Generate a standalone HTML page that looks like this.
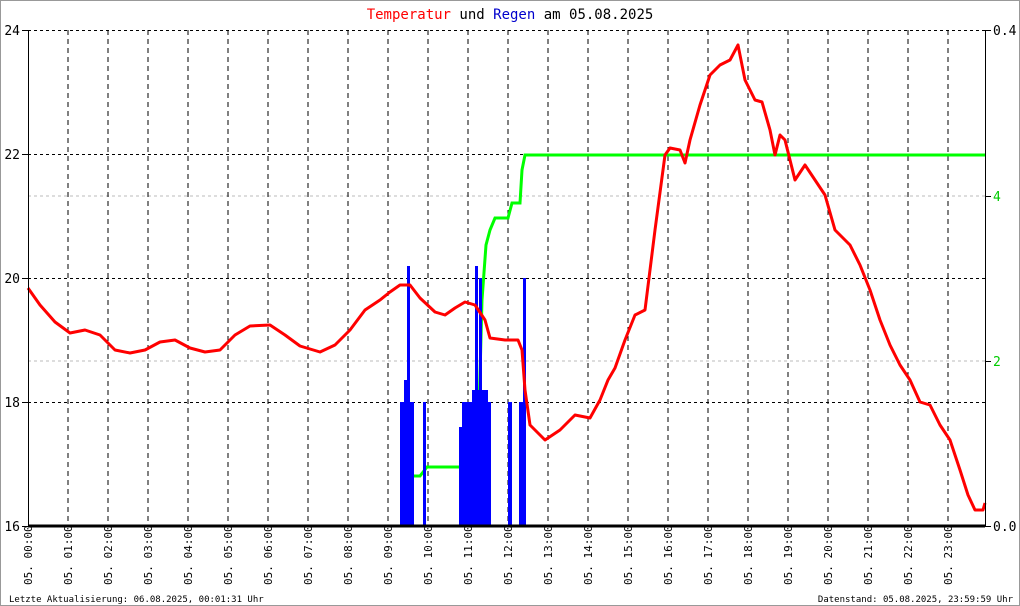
<!DOCTYPE html><html><head><style>body{margin:0;background:#fff}svg{display:block}text{font-family:"DejaVu Sans Mono","Liberation Mono",monospace}</style></head><body>
<svg width="1020" height="606" xmlns="http://www.w3.org/2000/svg">
<rect x="0.5" y="0.5" width="1019" height="605" fill="#fff" stroke="#999"/>
<text x="510" y="19" text-anchor="middle" font-size="14"><tspan fill="#f00">Temperatur</tspan> und <tspan fill="#00c">Regen</tspan> am 05.08.2025</text>
<g stroke="#bbb" stroke-dasharray="3,3"><line x1="28" y1="196" x2="985" y2="196"/><line x1="28" y1="361" x2="985" y2="361"/></g>
<g stroke="#000" stroke-dasharray="3,3"><line x1="28" y1="30.5" x2="985" y2="30.5"/><line x1="28" y1="154.5" x2="985" y2="154.5"/><line x1="28" y1="278.5" x2="985" y2="278.5"/><line x1="28" y1="402.5" x2="985" y2="402.5"/></g>
<g stroke="#000" stroke-dasharray="5,4">
<line x1="68" y1="30" x2="68" y2="526"/><line x1="108" y1="30" x2="108" y2="526"/><line x1="148" y1="30" x2="148" y2="526"/><line x1="188" y1="30" x2="188" y2="526"/><line x1="228" y1="30" x2="228" y2="526"/><line x1="268" y1="30" x2="268" y2="526"/><line x1="308" y1="30" x2="308" y2="526"/><line x1="348" y1="30" x2="348" y2="526"/><line x1="388" y1="30" x2="388" y2="526"/><line x1="428" y1="30" x2="428" y2="526"/><line x1="468" y1="30" x2="468" y2="526"/><line x1="508" y1="30" x2="508" y2="526"/><line x1="548" y1="30" x2="548" y2="526"/><line x1="588" y1="30" x2="588" y2="526"/><line x1="628" y1="30" x2="628" y2="526"/><line x1="668" y1="30" x2="668" y2="526"/><line x1="708" y1="30" x2="708" y2="526"/><line x1="748" y1="30" x2="748" y2="526"/><line x1="788" y1="30" x2="788" y2="526"/><line x1="828" y1="30" x2="828" y2="526"/><line x1="868" y1="30" x2="868" y2="526"/><line x1="908" y1="30" x2="908" y2="526"/><line x1="948" y1="30" x2="948" y2="526"/>
</g>
<polyline fill="none" stroke="#0f0" stroke-width="3" points="413,476 420,476 427,467 460,467 463,460 478,450 482,300 486,245 490,230 495,218 508,218 512,203 520,203 522,170 525,155 985,155"/>
<g fill="#00f">
<rect x="400" y="402" width="4" height="124"/><rect x="404" y="464" width="3" height="62"/><rect x="407" y="266" width="3" height="260"/><rect x="410" y="402" width="4" height="124"/><rect x="404" y="380" width="3" height="146"/>
<rect x="423" y="402" width="3" height="124"/>
<rect x="459" y="427" width="3" height="99"/><rect x="462" y="402" width="28" height="124"/><rect x="472" y="390" width="16" height="136"/><rect x="475" y="266" width="3" height="260"/><rect x="479" y="278" width="3" height="248"/><rect x="488" y="402" width="3" height="124"/>
<rect x="508" y="402" width="4" height="124"/><rect x="519" y="402" width="7" height="124"/><rect x="523" y="278" width="3" height="248"/>
</g>
<polyline fill="none" stroke="#f00" stroke-width="3" stroke-linejoin="round" points="28,288 40,305 55,322 70,333 85,330 100,335 115,350 130,353 145,350 160,342 175,340 190,348 205,352 220,350 235,335 250,326 270,325 285,335 300,346 320,352 335,345 350,330 365,310 380,300 390,292 400,285 410,285 420,298 435,312 445,315 455,308 465,302 475,305 485,320 490,338 505,340 518,340 522,350 525,390 530,425 545,440 560,430 575,415 590,418 600,400 608,380 615,368 625,340 635,315 645,310 655,230 665,155 670,148 680,150 685,163 690,140 700,105 710,75 720,65 730,60 738,45 745,80 755,100 762,102 770,130 775,155 780,135 785,140 795,180 805,165 815,180 825,195 835,230 850,245 860,265 870,290 880,320 890,345 900,365 910,380 920,402 930,405 940,425 950,440 960,470 968,495 975,510 983,510 985,503"/>
<line x1="28" y1="526" x2="985" y2="526" stroke="#000" stroke-width="3"/>
<line x1="28.5" y1="30" x2="28.5" y2="527" stroke="#000"/><line x1="985.5" y1="30" x2="985.5" y2="527" stroke="#000"/>
<g stroke="#000"><line x1="22" y1="30.5" x2="28" y2="30.5"/><line x1="22" y1="154.5" x2="28" y2="154.5"/><line x1="22" y1="278.5" x2="28" y2="278.5"/><line x1="22" y1="402.5" x2="28" y2="402.5"/><line x1="22" y1="526.5" x2="28" y2="526.5"/><line x1="985" y1="30.5" x2="991" y2="30.5"/><line x1="985" y1="196.5" x2="991" y2="196.5"/><line x1="985" y1="361.5" x2="991" y2="361.5"/><line x1="985" y1="526.5" x2="991" y2="526.5"/></g>
<g font-size="13" text-anchor="end"><text x="20" y="35">24</text><text x="20" y="159">22</text><text x="20" y="283">20</text><text x="20" y="407">18</text><text x="20" y="531">16</text></g>
<g font-size="13"><text x="993" y="35">0.4</text><text x="993" y="201" fill="#0c0">4</text><text x="993" y="366" fill="#0c0">2</text><text x="993" y="531">0.0</text></g>
<g font-size="11">
<text transform="translate(32,585) rotate(-90)">05. 00:00</text><text transform="translate(72,585) rotate(-90)">05. 01:00</text><text transform="translate(112,585) rotate(-90)">05. 02:00</text><text transform="translate(152,585) rotate(-90)">05. 03:00</text><text transform="translate(192,585) rotate(-90)">05. 04:00</text><text transform="translate(232,585) rotate(-90)">05. 05:00</text><text transform="translate(272,585) rotate(-90)">05. 06:00</text><text transform="translate(312,585) rotate(-90)">05. 07:00</text><text transform="translate(352,585) rotate(-90)">05. 08:00</text><text transform="translate(392,585) rotate(-90)">05. 09:00</text><text transform="translate(432,585) rotate(-90)">05. 10:00</text><text transform="translate(472,585) rotate(-90)">05. 11:00</text><text transform="translate(512,585) rotate(-90)">05. 12:00</text><text transform="translate(552,585) rotate(-90)">05. 13:00</text><text transform="translate(592,585) rotate(-90)">05. 14:00</text><text transform="translate(632,585) rotate(-90)">05. 15:00</text><text transform="translate(672,585) rotate(-90)">05. 16:00</text><text transform="translate(712,585) rotate(-90)">05. 17:00</text><text transform="translate(752,585) rotate(-90)">05. 18:00</text><text transform="translate(792,585) rotate(-90)">05. 19:00</text><text transform="translate(832,585) rotate(-90)">05. 20:00</text><text transform="translate(872,585) rotate(-90)">05. 21:00</text><text transform="translate(912,585) rotate(-90)">05. 22:00</text><text transform="translate(952,585) rotate(-90)">05. 23:00</text>
</g>
<text x="9" y="602" font-size="9">Letzte Aktualisierung: 06.08.2025, 00:01:31 Uhr</text>
<text x="1013" y="602" font-size="9" text-anchor="end">Datenstand: 05.08.2025, 23:59:59 Uhr</text>
</svg></body></html>
